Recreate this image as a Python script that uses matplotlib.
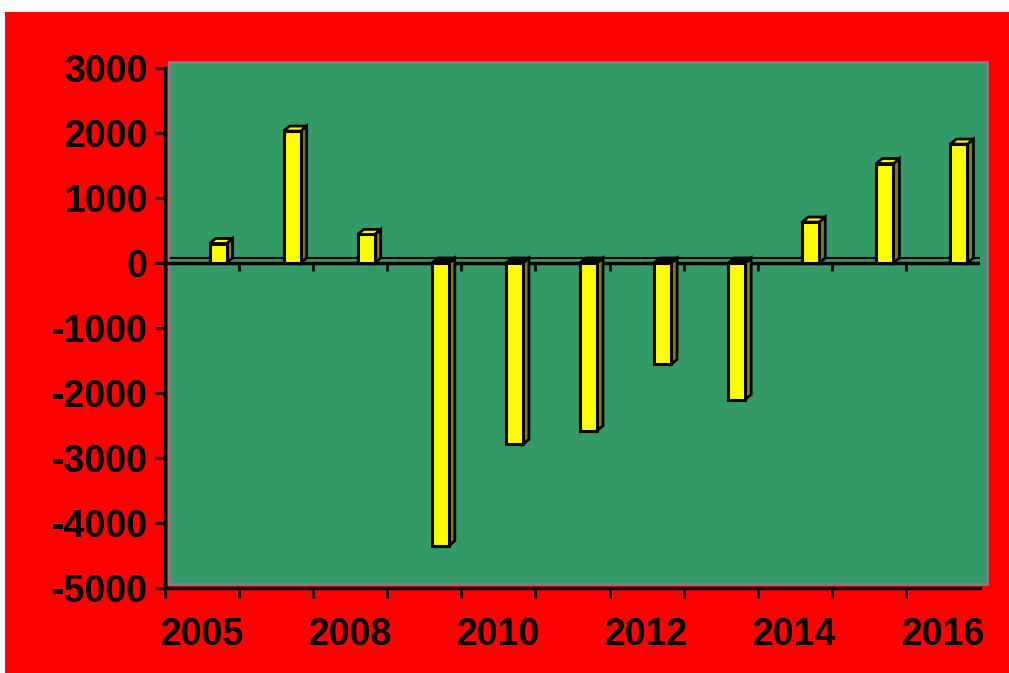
import numpy as np
import matplotlib.pyplot as plt
from matplotlib.patches import Rectangle, Polygon

# data
years = ['2005', '2007', '2008', '2009', '2010', '2011',
         '2012', '2013', '2014', '2015', '2016']
values = [300, 2030, 440, -4350, -2790, -2580, -1560, -2100, 630, 1530, 1830]
shown = ['2005', '2008', '2010', '2012', '2014', '2016']

W, H = 1009, 673
fig = plt.figure(figsize=(W / 100, H / 100), dpi=100)
fig.patch.set_facecolor('white')

# red chart area
fig.patches.append(Rectangle((5 / W, 0), 1 - 5 / W, (H - 12) / H,
                             transform=fig.transFigure, facecolor='#FF0000',
                             edgecolor='none', zorder=0))
# green back wall (3D look)
fig.patches.append(Rectangle((169 / W, (H - 584) / H), (987 - 169) / W, (584 - 62) / H,
                             transform=fig.transFigure, facecolor='#339966',
                             edgecolor='#808080', linewidth=2, zorder=1))

ax = fig.add_axes([165 / W, (H - 588) / H, (980 - 165) / W, (588 - 68) / H])
ax.set_zorder(5)
ax.set_facecolor('none')
ax.set_xlim(-0.5, len(years) - 0.5)
ax.set_ylim(-5000, 3000)

# pixel -> data conversions for the fake depth
px_x = (len(years)) / (980 - 165)
px_y = 8000 / (588 - 68)
dx, dy = 6 * px_x, 5 * px_y
bw = 17 * px_x
off = 16 * px_x - bw / 2

# floor line and zero line
ax.plot([-0.5 + dx, len(years) - 0.5 + dx], [dy, dy], color='black', lw=1.5, zorder=2)
ax.axhline(0, color='black', lw=2.5, zorder=2)
bounds = np.arange(len(years) + 1) - 0.5
ax.vlines(bounds[1:-1], -8 * px_y, 0, color='black', lw=2, zorder=2)

for i, v in enumerate(values):
    x0 = i + off
    x1 = x0 + bw
    top = max(v, 0)
    bot = min(v, 0)
    side = Polygon([(x1, bot), (x1 + dx, bot + dy), (x1 + dx, top + dy), (x1, top)],
                   closed=True, facecolor='#808000', edgecolor='black', lw=2, zorder=3)
    cap_col = '#FFFF00' if v > 0 else '#000000'
    cap = Polygon([(x0, top), (x0 + dx, top + dy), (x1 + dx, top + dy), (x1, top)],
                  closed=True, facecolor=cap_col, edgecolor='black', lw=2, zorder=3)
    front = Rectangle((x0, bot), bw, top - bot, facecolor='#FFFF00',
                      edgecolor='black', lw=2.2, zorder=4)
    ax.add_patch(side)
    ax.add_patch(cap)
    ax.add_patch(front)

for s in ['top', 'right']:
    ax.spines[s].set_visible(False)
ax.spines['left'].set_linewidth(2.5)
ax.spines['bottom'].set_linewidth(2.5)

font = dict(family=['Liberation Sans', 'DejaVu Sans'], weight='bold', size=27)

ax.set_yticks(np.arange(-5000, 3001, 1000))
ax.set_yticklabels([str(t) for t in range(-5000, 3001, 1000)], **font)
ax.tick_params(axis='y', direction='out', length=7.5, width=2, pad=5)

ax.set_xticks(bounds[:-1])
ax.set_xticklabels([])
ax.tick_params(axis='x', which='major', direction='out', length=7.5, width=2)
idx = [years.index(y) for y in shown]
ax.set_xticks(idx, minor=True)
ax.set_xticklabels(shown, minor=True, **font)
ax.tick_params(axis='x', which='minor', length=0, pad=21)

fig.savefig('out.png', dpi=100, facecolor=fig.get_facecolor())
